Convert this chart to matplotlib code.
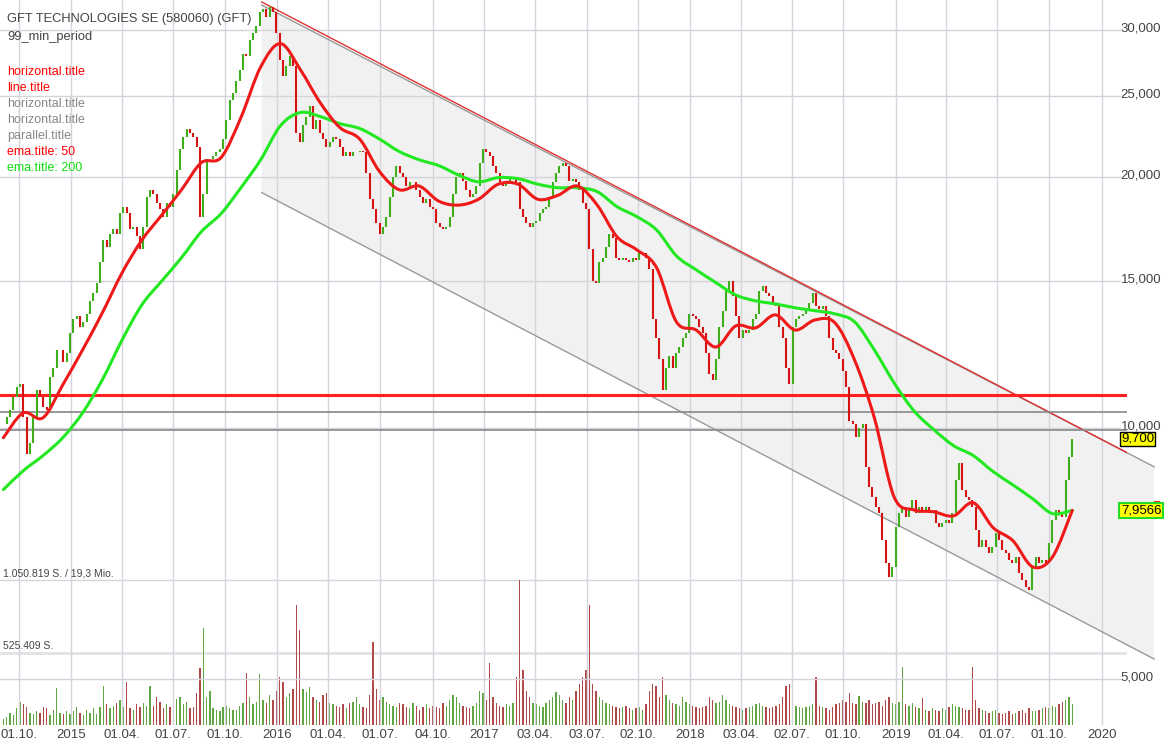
import numpy as np
import pandas as pd
import matplotlib
matplotlib.use("Agg")
import matplotlib.pyplot as plt
import matplotlib.dates as mdates
import matplotlib.transforms as mtransforms
from matplotlib.patches import Polygon, PathPatch
from matplotlib.path import Path
from matplotlib.lines import Line2D
from matplotlib.ticker import NullLocator

plt.rcParams['font.family'] = ['Liberation Sans', 'DejaVu Sans']

# closing prices, sampled evenly between first_day and last_day
first_day, last_day = "2014-09-03", "2019-11-11"
closes = [
    10.1, 10.3, 10.5, 10.9, 11.2, 11.3, 10.3, 9.3, 9.6, 10.3,
    11.1, 10.9, 10.6, 10.5, 11.5, 11.8, 12.4, 12.4, 12.0, 12.3,
    13.0, 13.5, 13.6, 13.2, 13.4, 13.7, 14.2, 14.5, 14.9, 15.8,
    16.8, 16.5, 17.1, 17.3, 17.1, 18.1, 18.4, 18.1, 17.3, 17.4,
    17.0, 16.4, 17.4, 18.9, 19.3, 19.1, 18.6, 18.3, 17.9, 18.6,
    18.4, 19.1, 20.4, 21.6, 22.3, 22.8, 22.6, 22.3, 21.7, 17.9,
    19.1, 21.0, 21.0, 21.2, 21.4, 21.6, 22.2, 23.4, 24.7, 25.2,
    26.1, 26.9, 28.1, 27.9, 29.2, 29.8, 30.3, 31.5, 31.8, 31.1,
    32.0, 31.5, 29.8, 27.6, 26.4, 27.2, 27.9, 27.2, 22.6, 22.0,
    23.1, 23.6, 24.3, 22.8, 23.4, 22.6, 22.2, 21.7, 22.0, 22.3,
    22.2, 21.7, 21.2, 21.4, 21.2, 21.4, 21.4, 21.5, 21.4, 20.2,
    18.8, 18.3, 17.6, 17.1, 17.4, 17.9, 18.9, 20.0, 20.6, 20.2,
    20.0, 19.5, 19.7, 19.7, 19.3, 18.9, 18.6, 18.8, 18.4, 18.3,
    17.6, 17.4, 17.3, 17.4, 17.9, 19.1, 20.0, 20.2, 19.8, 19.3,
    18.9, 19.1, 19.5, 20.8, 21.6, 21.4, 21.2, 20.6, 20.2, 19.7,
    19.5, 19.8, 20.0, 20.0, 19.7, 18.3, 17.9, 17.6, 17.4, 17.6,
    17.7, 18.1, 18.3, 18.4, 18.9, 19.7, 20.2, 20.6, 20.8, 20.6,
    19.8, 19.9, 19.7, 19.3, 18.6, 18.3, 16.4, 15.0, 14.9, 15.8,
    16.0, 16.5, 17.1, 16.9, 16.0, 15.9, 16.0, 15.9, 15.8, 16.0,
    15.9, 16.2, 16.2, 16.0, 15.5, 13.5, 12.8, 12.1, 11.1, 11.8,
    12.2, 11.8, 12.3, 12.5, 12.8, 13.0, 13.7, 13.6, 13.5, 13.2,
    13.0, 12.3, 11.6, 11.4, 12.1, 13.2, 13.8, 14.6, 15.0, 14.4,
    13.6, 12.8, 13.1, 13.0, 13.1, 13.5, 13.7, 14.6, 14.8, 14.5,
    14.4, 14.1, 14.0, 13.2, 12.8, 11.8, 11.3, 13.2, 13.5, 13.6,
    13.7, 13.9, 14.1, 14.5, 14.0, 13.9, 14.0, 13.6, 12.8, 12.4,
    12.3, 12.1, 11.7, 11.2, 10.2, 10.1, 9.75, 10.0, 10.1, 8.98,
    8.5, 8.27, 8.04, 7.9, 7.34, 6.89, 6.63, 6.81, 7.6, 7.9,
    8.04, 7.82, 7.97, 8.2, 7.9, 8.04, 7.97, 8.04, 7.9, 7.97,
    7.69, 7.6, 7.69, 7.76, 7.69, 7.9, 8.66, 9.08, 8.43, 8.27,
    8.2, 8.04, 7.54, 7.2, 7.34, 7.2, 7.08, 7.2, 7.48, 7.34,
    7.14, 7.08, 6.94, 6.89, 7.0, 6.7, 6.57, 6.45, 6.39, 6.81,
    7.0, 6.89, 6.94, 6.89, 7.28, 7.76, 7.97, 7.9, 7.82, 8.66,
    9.23, 9.70,
]

# volume in thousand shares, same sampling as closes
volumes = [
    40, 60, 90, 70, 120, 165, 150, 130, 90, 80,
    100, 90, 130, 120, 70, 110, 268, 90, 80, 100,
    80, 100, 130, 90, 70, 110, 90, 120, 80, 130,
    283, 150, 120, 140, 160, 180, 130, 312, 120, 110,
    150, 130, 160, 140, 283, 140, 200, 170, 120, 150,
    130, 160, 190, 200, 150, 170, 120, 130, 230, 413,
    700, 200, 250, 120, 110, 100, 130, 140, 120, 110,
    110, 140, 160, 377, 200, 150, 170, 370, 180, 160,
    220, 180, 250, 348, 312, 200, 230, 260, 870, 690,
    260, 240, 275, 200, 180, 170, 220, 230, 160, 150,
    140, 130, 150, 120, 160, 170, 200, 150, 130, 120,
    220, 600, 260, 180, 200, 170, 150, 140, 130, 160,
    150, 130, 120, 160, 140, 110, 130, 150, 120, 140,
    130, 120, 160, 140, 180, 220, 200, 160, 140, 130,
    120, 140, 160, 250, 230, 180, 450, 200, 160, 140,
    130, 150, 140, 160, 350, 1050, 400, 250, 200, 160,
    150, 140, 130, 160, 180, 200, 240, 220, 180, 160,
    200, 180, 250, 300, 350, 400, 870, 300, 250, 200,
    180, 160, 150, 140, 130, 120, 130, 140, 120, 110,
    120, 130, 110, 150, 250, 300, 280, 200, 350, 220,
    180, 160, 150, 140, 200, 170, 150, 140, 130, 120,
    130, 140, 200, 180, 160, 170, 220, 180, 150, 140,
    130, 120, 110, 120, 130, 140, 150, 160, 140, 130,
    120, 130, 140, 150, 200, 280, 300, 160, 140, 130,
    120, 130, 140, 150, 350, 140, 130, 120, 110, 130,
    150, 160, 180, 170, 230, 160, 150, 210, 170, 160,
    180, 150, 160, 170, 140, 180, 200, 160, 150, 170,
    420, 150, 140, 160, 130, 120, 196, 110, 100, 120,
    110, 100, 120, 110, 130, 150, 140, 130, 120, 110,
    110, 420, 180, 120, 110, 100, 90, 100, 110, 90,
    80, 90, 100, 80, 90, 100, 110, 90, 120, 100,
    100, 110, 120, 130, 120, 140, 130, 150, 170, 180,
    200, 150,
]

ema50 = [
    9.73, 10.42, 10.28, 11.26, 12.40, 13.74, 15.35, 16.80, 18.0, 19.3,
    20.8, 21.1, 23.56, 27.1, 28.9, 26.9, 24.56, 22.92, 22.2, 20.3,
    19.3, 19.5, 18.7, 18.5, 18.8, 19.6, 19.6, 18.8, 19.0, 19.5,
    18.5, 16.95, 16.35, 15.56, 13.4, 13.1, 12.5, 13.25, 13.18, 13.66,
    13.1, 13.47, 13.37, 12.06, 10.28, 8.26, 7.97, 7.93, 7.84, 8.13,
    7.59, 7.32, 6.81, 7.0, 7.96,
]
ema200 = [
    8.43, 8.88, 9.26, 9.73, 10.42, 11.42, 12.75, 14.05, 15.0, 16.0,
    17.19, 18.07, 19.41, 20.97, 23.04, 23.89, 23.63, 23.17, 22.86, 22.2,
    21.45, 20.97, 20.63, 20.1, 19.73, 19.96, 19.9, 19.6, 19.41, 19.41,
    19.2, 18.42, 17.92, 17.27, 16.08, 15.47, 14.93, 14.43, 14.2, 14.08,
    13.93, 13.82, 13.7, 13.4, 12.4, 11.32, 10.48, 9.95, 9.52, 9.26,
    8.86, 8.54, 8.22, 7.89, 7.96,
]

# horizontal levels
red_level = 10.95
gray_levels = [10.45, 9.95]

# trend channel
channel_dates = ["2015-12-05", "2020-04-04"]
channel_upper = [32.15, 8.98]
channel_lower = [19.15, 5.28]
trend_line = [32.42, 8.98]

price_ticks = [5, 10, 15, 20, 25, 30]
price_labels = ["5,000", "10,000", "15,000", "20,000", "25,000", "30,000"]
tick_dates = ["2014-10-01", "2015-01-01", "2015-04-01", "2015-07-01", "2015-10-01",
              "2016-01-01", "2016-04-01", "2016-07-01", "2016-10-04", "2017-01-02",
              "2017-04-03", "2017-07-03", "2017-10-02", "2018-01-02", "2018-04-03",
              "2018-07-02", "2018-10-01", "2019-01-02", "2019-04-01", "2019-07-01",
              "2019-10-01", "2020-01-02"]
tick_labels = ["01.10.", "2015", "01.04.", "01.07.", "01.10.", "2016", "01.04.", "01.07.",
               "04.10.", "2017", "03.04.", "03.07.", "02.10.", "2018", "03.04.", "02.07.",
               "01.10.", "2019", "01.04.", "01.07.", "01.10.", "2020"]
vol_max = 1050819

W, H = 1174, 749
fig = plt.figure(figsize=(W / 100, H / 100), dpi=100)
ax = fig.add_axes([0, 24 / H, 1127 / W, 725 / H])
ax2 = ax.twinx()

days = mdates.date2num(pd.date_range(first_day, last_day, periods=len(closes)))
ema_days = mdates.date2num(pd.date_range(first_day, last_day, periods=len(ema50)))
closes = np.array(closes)
opens = np.r_[closes[0], closes[:-1]]
up = closes >= opens

ax.set_yscale("log")
ax.set_ylim(4.40, 32.6)
ax.set_xlim(mdates.date2num(pd.Timestamp("2014-08-28")), mdates.date2num(pd.Timestamp("2020-02-16")))
ax2.set_ylim(0, vol_max * 725 / 145)


def smooth_curve(x, y, color):
    # Catmull-Rom through the read points, drawn as cubic Bezier segments (log space)
    x = np.asarray(x, float)
    ly = np.log10(np.asarray(y, float))
    px = np.r_[x[0], x, x[-1]]
    py = np.r_[ly[0], ly, ly[-1]]
    verts = [(x[0], y[0])]
    codes = [Path.MOVETO]
    for i in range(1, len(px) - 2):
        c1 = (px[i] + (px[i + 1] - px[i - 1]) / 6, py[i] + (py[i + 1] - py[i - 1]) / 6)
        c2 = (px[i + 1] - (px[i + 2] - px[i]) / 6, py[i + 1] - (py[i + 2] - py[i]) / 6)
        verts += [(c1[0], 10 ** c1[1]), (c2[0], 10 ** c2[1]), (px[i + 1], 10 ** py[i + 1])]
        codes += [Path.CURVE4] * 3
    ax.add_patch(PathPatch(Path(verts, codes), fc="none", ec=color, lw=2.2,
                           capstyle="round", joinstyle="round", zorder=5))


# channel
cd = mdates.date2num(pd.to_datetime(channel_dates))
poly = Polygon([(cd[0], channel_upper[0]), (cd[1], channel_upper[1]),
                (cd[1], channel_lower[1]), (cd[0], channel_lower[0])],
               closed=True, fc="#f1f1f1", ec="none", zorder=0.3, clip_on=False)
ax.add_patch(poly)
ax.plot(cd, channel_lower, color="#999999", lw=1, zorder=2, clip_on=False)
ax.plot(cd, channel_upper, color="#999999", lw=1, zorder=2, clip_on=False)
ax.plot(cd, trend_line, color="#e03030", lw=1, zorder=2.1)

# grid
for t in tick_dates:
    ax.axvline(mdates.date2num(pd.Timestamp(t)), color="#d4d4dc", lw=1, zorder=0.5)
for p in price_ticks:
    ax.axhline(p, xmax=1120 / 1127, color="#d4d4dc", lw=1, zorder=0.5)
ax2.axhline(vol_max, color="#d4d4dc", lw=1, zorder=0.5)
ax2.axhline(vol_max / 2, color="#e2e2e6", lw=2, zorder=0.5)

# levels
ax.axhline(red_level, color="#ff2020", lw=2.2, zorder=3)
for g in gray_levels:
    ax.axhline(g, color="#888888", lw=1.2, zorder=3)

# volume
vol = np.array(volumes) * 1000
ax2.bar(days[up], vol[up], width=2.4, color="#62a544", zorder=1)
ax2.bar(days[~up], vol[~up], width=2.4, color="#b04a4a", zorder=1)

# candles
ax.vlines(days[up], opens[up], closes[up], color="#3fae1c", lw=1.5, zorder=4)
ax.vlines(days[~up], opens[~up], closes[~up], color="#d51313", lw=1.5, zorder=4)

# moving averages
smooth_curve(ema_days, ema200, "#22e822")
smooth_curve(ema_days, ema50, "#ee1a1a")
ax.set_zorder(2)
ax.patch.set_visible(False)
ax2.set_zorder(1)

# axes decoration
for a in (ax, ax2):
    for s in a.spines.values():
        s.set_visible(False)
ax2.set_yticks([])
ax.yaxis.tick_right()
ax.yaxis.set_minor_locator(NullLocator())
ax.set_yticks(price_ticks)
ax.set_yticklabels(price_labels)
ax.tick_params(axis="y", which="both", length=0, pad=-4.5, labelsize=9.5, labelcolor="#444444")
lift = mtransforms.ScaledTranslation(0, 3 / 100, fig.dpi_scale_trans)
for lab in ax.get_yticklabels():
    lab.set_horizontalalignment("left")
    lab.set_verticalalignment("center_baseline")
    lab.set_transform(lab.get_transform() + lift)
ax.set_xticks(mdates.date2num(pd.to_datetime(tick_dates)))
ax.set_xticklabels(tick_labels)
ax.tick_params(axis="x", length=0, pad=3, labelsize=9.5, labelcolor="#444444")

# price flags
tr = ax.get_yaxis_transform()
ax.text(1121 / 1127, closes[-1], "9,700", transform=tr, va="center", ha="left", fontsize=9.5,
        bbox=dict(boxstyle="square,pad=0.06", fc="#ffff00", ec="black", lw=1), zorder=10)
ax.text(1121 / 1127, ema200[-1], "7,9566", transform=tr, va="center", ha="left", fontsize=9.5,
        bbox=dict(boxstyle="square,pad=0.12", fc="#ffff00", ec="#22dd22", lw=1.5), zorder=10)
fig.add_artist(Line2D([1120 / W, 1159 / W], [1 - 502 / H] * 2, color="#ff2020", lw=1.5))


# header and legend
def label(y, s, color, size=9.0):
    fig.text(7 / W, 1 - y / H, s, color=color, fontsize=size, va="center", ha="left")


label(19, "GFT TECHNOLOGIES SE (580060) (GFT)", "#444444", 9.3)
label(37, "99_min_period", "#444444", 9.3)
label(72, "horizontal.title", "#ff0000")
label(88, "line.title", "#ff0000")
label(104, "horizontal.title", "#888888")
label(120, "horizontal.title", "#888888")
label(136, "parallel.title", "#888888")
label(152, "ema.title: 50", "#ff0000")
label(168, "ema.title: 200", "#11dd11")
fig.text(3 / W, 1 - 573 / H, "1.050.819 S. / 19,3 Mio.", color="#444444", fontsize=7.5, va="center")
fig.text(3 / W, 1 - 646 / H, "525.409 S.", color="#444444", fontsize=7.5, va="center")

fig.savefig("out.png", dpi=100)
